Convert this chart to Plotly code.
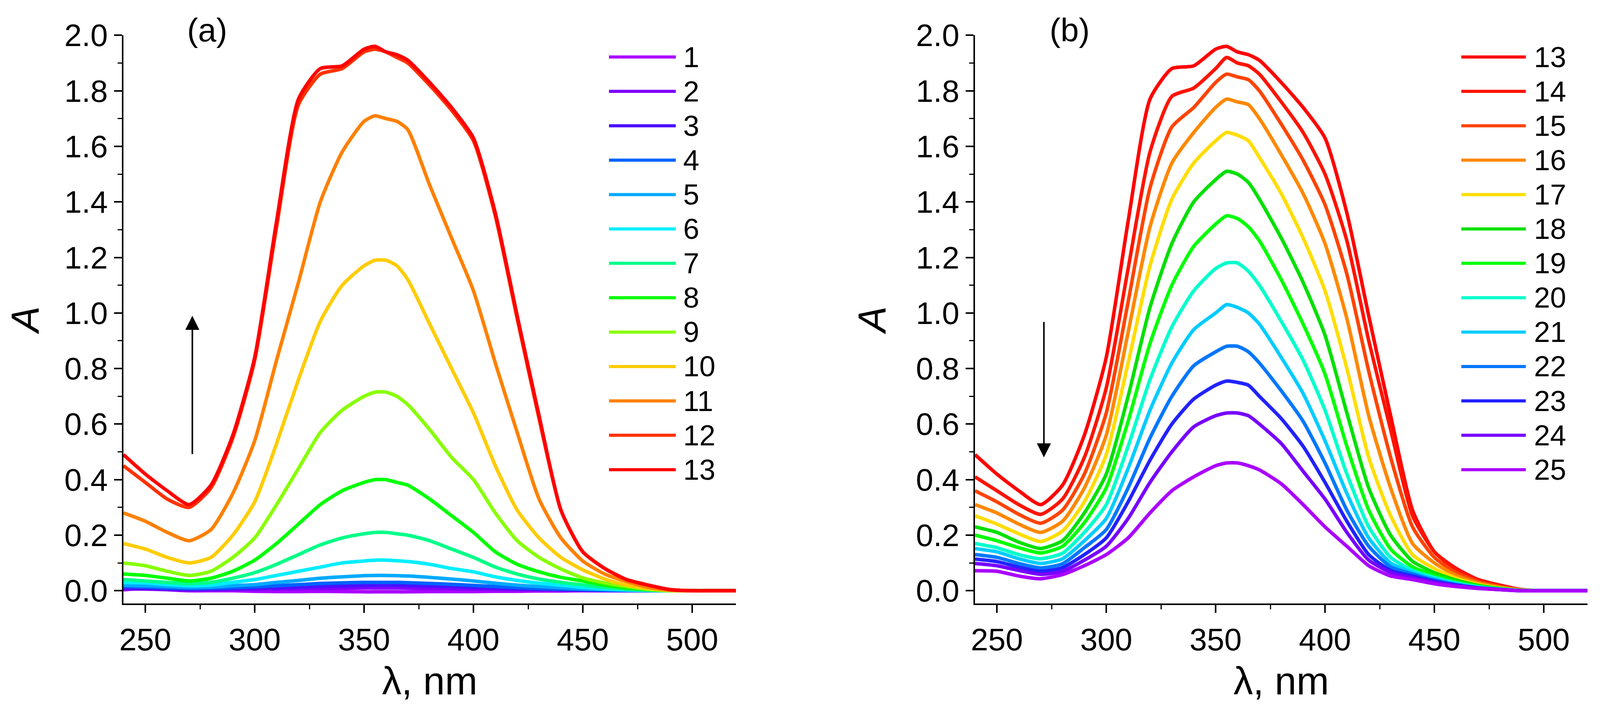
import plotly.graph_objects as go

wl = [240, 250, 260, 270, 280, 290, 300, 310, 320, 330, 340, 350, 355, 360, 365, 370,
      380, 390, 400, 410, 420, 430, 440, 450, 460, 470, 480, 490, 500, 510, 520]

# absorbance, spectra 1-25
c1 = [0.003, 0.01, 0.004, 0.0, 0.0, 0.0, -0.002, -0.003, -0.003, -0.002, -0.003, -0.004, -0.004, -0.004, -0.004, -0.004,
      -0.003, -0.003, -0.003, -0.002, -0.002, -0.001, -0.001, 0.0, 0.0, 0.0, 0.0, 0.0, 0.0, 0.0, 0.0]
c2 = [0.006, 0.006, 0.004, 0.002, 0.003, 0.004, 0.005, 0.006, 0.007, 0.008, 0.009, 0.01, 0.01, 0.01, 0.01, 0.009,
      0.008, 0.007, 0.006, 0.005, 0.004, 0.003, 0.002, 0.001, 0.0, 0.0, 0.0, 0.0, 0.0, 0.0, 0.0]
c3 = [0.01, 0.009, 0.007, 0.005, 0.006, 0.007, 0.009, 0.011, 0.013, 0.016, 0.018, 0.019, 0.02, 0.02, 0.02, 0.019,
      0.017, 0.015, 0.012, 0.01, 0.007, 0.005, 0.004, 0.002, 0.001, 0.0, 0.0, 0.0, 0.0, 0.0, 0.0]
c4 = [0.015, 0.013, 0.01, 0.008, 0.009, 0.011, 0.014, 0.018, 0.022, 0.026, 0.028, 0.03, 0.03, 0.03, 0.03, 0.029,
      0.026, 0.023, 0.019, 0.015, 0.011, 0.008, 0.006, 0.004, 0.002, 0.001, 0.0, 0.0, 0.0, 0.0, 0.0]
c5 = [0.02, 0.018, 0.015, 0.012, 0.013, 0.018, 0.022, 0.03, 0.037, 0.045, 0.05, 0.054, 0.055, 0.055, 0.054, 0.053,
      0.048, 0.042, 0.035, 0.027, 0.02, 0.015, 0.011, 0.007, 0.004, 0.002, 0.001, 0.0, 0.0, 0.0, 0.0]
c6 = [0.03, 0.028, 0.022, 0.018, 0.02, 0.03, 0.04, 0.055, 0.07, 0.085, 0.1, 0.107, 0.11, 0.11, 0.108, 0.105,
      0.095, 0.08, 0.068, 0.05, 0.037, 0.027, 0.02, 0.012, 0.007, 0.003, 0.001, 0.0, 0.0, 0.0, 0.0]
c7 = [0.04, 0.035, 0.03, 0.025, 0.03, 0.045, 0.065, 0.095, 0.13, 0.165, 0.19, 0.205, 0.21, 0.21, 0.205, 0.2,
      0.18, 0.15, 0.12, 0.085, 0.06, 0.042, 0.03, 0.021, 0.012, 0.006, 0.002, 0.0, 0.0, 0.0, 0.0]
c8 = [0.06, 0.055, 0.045, 0.035, 0.045, 0.07, 0.11, 0.17, 0.24, 0.31, 0.36, 0.39, 0.4, 0.4, 0.39, 0.38,
      0.33, 0.27, 0.21, 0.14, 0.095, 0.068, 0.048, 0.035, 0.02, 0.01, 0.004, 0.0, 0.0, 0.0, 0.0]
c9 = [0.1, 0.09, 0.07, 0.055, 0.07, 0.12, 0.19, 0.31, 0.44, 0.57, 0.65, 0.7, 0.715, 0.715, 0.7, 0.67,
      0.58, 0.48, 0.4, 0.28, 0.18, 0.12, 0.078, 0.046, 0.028, 0.015, 0.005, 0.0, 0.0, 0.0, 0.0]
c10 = [0.17, 0.15, 0.12, 0.1, 0.12, 0.2, 0.32, 0.53, 0.76, 0.97, 1.1, 1.17, 1.19, 1.19, 1.17, 1.12,
       0.96, 0.8, 0.64, 0.45, 0.29, 0.19, 0.12, 0.075, 0.042, 0.02, 0.008, 0.001, 0.0, 0.0, 0.0]
c11 = [0.28, 0.25, 0.21, 0.18, 0.22, 0.35, 0.54, 0.83, 1.11, 1.4, 1.58, 1.69, 1.71, 1.7, 1.69, 1.66,
       1.46, 1.27, 1.08, 0.82, 0.57, 0.33, 0.19, 0.107, 0.06, 0.033, 0.012, 0.002, 0.0, 0.0, 0.0]
c12 = [0.45, 0.39, 0.33, 0.3, 0.37, 0.55, 0.83, 1.31, 1.75, 1.86, 1.88, 1.94, 1.95, 1.94, 1.92, 1.9,
       1.82, 1.73, 1.62, 1.35, 0.98, 0.62, 0.29, 0.14, 0.08, 0.04, 0.02, 0.004, 0.0, 0.0, 0.0]
c13 = [0.49, 0.42, 0.36, 0.31, 0.38, 0.56, 0.84, 1.33, 1.77, 1.88, 1.89, 1.95, 1.96, 1.94, 1.93, 1.91,
       1.83, 1.74, 1.63, 1.36, 0.99, 0.63, 0.29, 0.14, 0.08, 0.04, 0.02, 0.004, 0.0, 0.0, 0.0]
c14 = [0.41, 0.36, 0.31, 0.275, 0.33, 0.48, 0.73, 1.16, 1.58, 1.78, 1.81, 1.88, 1.92, 1.9, 1.89, 1.86,
       1.76, 1.65, 1.5, 1.26, 0.9, 0.58, 0.27, 0.14, 0.075, 0.038, 0.018, 0.003, 0.0, 0.0, 0.0]
c15 = [0.36, 0.32, 0.275, 0.243, 0.29, 0.42, 0.64, 1.04, 1.45, 1.67, 1.74, 1.83, 1.86, 1.85, 1.84, 1.8,
       1.68, 1.55, 1.39, 1.14, 0.79, 0.48, 0.23, 0.12, 0.065, 0.033, 0.015, 0.003, 0.0, 0.0, 0.0]
c16 = [0.31, 0.28, 0.24, 0.21, 0.25, 0.37, 0.56, 0.93, 1.31, 1.54, 1.65, 1.74, 1.77, 1.76, 1.75, 1.7,
       1.57, 1.43, 1.25, 0.98, 0.63, 0.37, 0.17, 0.1, 0.055, 0.028, 0.012, 0.002, 0.0, 0.0, 0.0]
c17 = [0.27, 0.24, 0.205, 0.177, 0.215, 0.32, 0.49, 0.82, 1.17, 1.41, 1.54, 1.62, 1.65, 1.64, 1.62, 1.56,
       1.43, 1.27, 1.08, 0.8, 0.48, 0.27, 0.13, 0.08, 0.045, 0.023, 0.01, 0.002, 0.0, 0.0, 0.0]
c18 = [0.23, 0.21, 0.175, 0.152, 0.18, 0.28, 0.42, 0.7, 1.02, 1.25, 1.4, 1.48, 1.51, 1.5, 1.47, 1.41,
       1.27, 1.11, 0.92, 0.64, 0.37, 0.2, 0.106, 0.065, 0.038, 0.019, 0.008, 0.001, 0.0, 0.0, 0.0]
c19 = [0.2, 0.18, 0.155, 0.136, 0.16, 0.245, 0.37, 0.61, 0.89, 1.1, 1.24, 1.32, 1.35, 1.34, 1.31, 1.26,
       1.12, 0.96, 0.78, 0.52, 0.29, 0.15, 0.086, 0.055, 0.032, 0.016, 0.007, 0.001, 0.0, 0.0, 0.0]
c20 = [0.17, 0.155, 0.13, 0.115, 0.135, 0.21, 0.31, 0.52, 0.76, 0.95, 1.08, 1.16, 1.18, 1.18, 1.15, 1.1,
       0.97, 0.83, 0.65, 0.42, 0.23, 0.12, 0.073, 0.048, 0.028, 0.014, 0.006, 0.001, 0.0, 0.0, 0.0]
c21 = [0.152, 0.14, 0.115, 0.098, 0.115, 0.18, 0.26, 0.44, 0.65, 0.82, 0.94, 1.0, 1.03, 1.02, 1.0, 0.96,
       0.84, 0.71, 0.54, 0.35, 0.19, 0.1, 0.066, 0.042, 0.025, 0.012, 0.005, 0.0, 0.0, 0.0, 0.0]
c22 = [0.13, 0.12, 0.098, 0.082, 0.097, 0.155, 0.22, 0.37, 0.55, 0.7, 0.81, 0.86, 0.88, 0.88, 0.86, 0.82,
       0.72, 0.61, 0.46, 0.29, 0.16, 0.086, 0.06, 0.038, 0.022, 0.011, 0.005, 0.0, 0.0, 0.0, 0.0]
c23 = [0.114, 0.105, 0.085, 0.07, 0.083, 0.13, 0.19, 0.32, 0.47, 0.6, 0.69, 0.74, 0.755, 0.75, 0.74, 0.7,
       0.62, 0.52, 0.39, 0.25, 0.13, 0.073, 0.053, 0.034, 0.02, 0.01, 0.004, 0.0, 0.0, 0.0, 0.0]
c24 = [0.098, 0.09, 0.073, 0.059, 0.07, 0.11, 0.16, 0.26, 0.39, 0.5, 0.59, 0.63, 0.64, 0.64, 0.63, 0.6,
       0.53, 0.43, 0.33, 0.21, 0.11, 0.066, 0.046, 0.03, 0.018, 0.009, 0.004, 0.0, 0.0, 0.0, 0.0]
c25 = [0.072, 0.07, 0.053, 0.043, 0.058, 0.09, 0.13, 0.19, 0.28, 0.36, 0.41, 0.45, 0.46, 0.46, 0.45, 0.435,
       0.385, 0.31, 0.23, 0.16, 0.09, 0.053, 0.04, 0.025, 0.015, 0.008, 0.004, 0.0, 0.0, 0.0, 0.0]

names_a = ["1", "2", "3", "4", "5", "6", "7", "8", "9", "10", "11", "12", "13"]
series_a = [c1, c2, c3, c4, c5, c6, c7, c8, c9, c10, c11, c12, c13]
colors_a = ["#AA00FF", "#8000FF", "#4A10FF", "#0062FF", "#00AAFF", "#00EEFF", "#00FF88",
            "#00FF00", "#88FF00", "#FFCC00", "#FF8000", "#FF3300", "#FF0000"]

names_b = ["13", "14", "15", "16", "17", "18", "19", "20", "21", "22", "23", "24", "25"]
series_b = [c13, c14, c15, c16, c17, c18, c19, c20, c21, c22, c23, c24, c25]
colors_b = ["#FF0000", "#FF1400", "#FF4400", "#FF8800", "#FFDD00", "#00E000", "#00FF00",
            "#00FFCC", "#00CCFF", "#0077FF", "#2222FF", "#7700FF", "#AA00FF"]

W, H = 4111, 1824
OFF = 8  # default body margin of the html page
FONT = "Arial, Liberation Sans, sans-serif"
LW = 9


def px(x):
    return (x - OFF) / W


def py(y):
    return 1 - (y - OFF) / H


fig = go.Figure()

for name, ys, col in zip(names_a, series_a, colors_a):
    fig.add_trace(go.Scatter(x=wl, y=ys, mode="lines", name=name, showlegend=False,
                             line=dict(color=col, width=LW, shape="spline", smoothing=0.6),
                             xaxis="x", yaxis="y"))
for name, ys, col in zip(names_b, series_b, colors_b):
    fig.add_trace(go.Scatter(x=wl, y=ys, mode="lines", name=name, showlegend=False,
                             line=dict(color=col, width=LW, shape="spline", smoothing=0.6),
                             xaxis="x2", yaxis="y2"))

xax = dict(range=[240, 520], tickmode="linear", tick0=0, dtick=50,
           showline=True, linecolor="black", linewidth=4, mirror=False,
           ticks="outside", ticklen=20, tickwidth=4, tickcolor="black",
           minor=dict(ticks="outside", ticklen=11, tickwidth=3, tickcolor="black", dtick=25),
           showgrid=False, zeroline=False, automargin=False,
           tickfont=dict(family=FONT, size=80, color="black"),
           title=dict(text="λ, nm", font=dict(family=FONT, size=100, color="black"), standoff=28))
yax = dict(range=[-0.046, 2.0005], tickmode="linear", tick0=0, dtick=0.2, tickformat=".1f",
           showline=True, linecolor="black", linewidth=4, mirror=False,
           ticks="outside", ticklen=20, tickwidth=4, tickcolor="black",
           minor=dict(ticks="outside", ticklen=11, tickwidth=3, tickcolor="black", dtick=0.1),
           showgrid=False, zeroline=False, automargin=False,
           tickfont=dict(family=FONT, size=80, color="black"),
           title=dict(text="<i>A</i>", font=dict(family=FONT, size=100, color="black"), standoff=45))

ydom = [py(1546), py(90)]
fig.update_layout(
    width=W, height=H,
    margin=dict(l=0, r=0, t=0, b=0),
    paper_bgcolor="white", plot_bgcolor="white",
    showlegend=False,
    xaxis=dict(xax, domain=[px(316), px(1884)], anchor="y"),
    yaxis=dict(yax, domain=ydom, anchor="x"),
    xaxis2=dict(xax, domain=[px(2496), px(4064)], anchor="y2"),
    yaxis2=dict(yax, domain=ydom, anchor="x2"),
)

# hand-drawn legends (long line samples as in the original)
shapes = []
annotations = []
for x0, x1, xt, names, colors in [(1559, 1730, 1747, names_a, colors_a),
                                  (3741, 3906, 3925, names_b, colors_b)]:
    for i, (name, col) in enumerate(zip(names, colors)):
        yy = py(146 + i * 88.1)
        shapes.append(dict(type="line", xref="paper", yref="paper", x0=px(x0), x1=px(x1),
                           y0=yy, y1=yy, line=dict(color=col, width=8)))
        annotations.append(dict(xref="paper", yref="paper", x=px(xt), y=yy, text=name,
                                showarrow=False, xanchor="left", yanchor="middle",
                                font=dict(family=FONT, size=74, color="black")))

# panel labels
annotations.append(dict(xref="paper", yref="paper", x=px(530), y=py(77), text="(a)",
                        showarrow=False, xanchor="center", yanchor="middle",
                        font=dict(family=FONT, size=84, color="black")))
annotations.append(dict(xref="paper", yref="paper", x=px(2738), y=py(77), text="(b)",
                        showarrow=False, xanchor="center", yanchor="middle",
                        font=dict(family=FONT, size=84, color="black")))

# arrows
annotations.append(dict(xref="x", yref="y", x=271.5, y=0.99, axref="x", ayref="y", ax=271.5, ay=0.49,
                        text="", showarrow=True, arrowhead=2, arrowsize=1.8, arrowwidth=4,
                        arrowcolor="black"))
annotations.append(dict(xref="x2", yref="y2", x=271.5, y=0.48, axref="x2", ayref="y2", ax=271.5, ay=0.97,
                        text="", showarrow=True, arrowhead=2, arrowsize=1.8, arrowwidth=4,
                        arrowcolor="black"))

fig.update_layout(shapes=shapes, annotations=annotations)

fig.write_html("out.html")
